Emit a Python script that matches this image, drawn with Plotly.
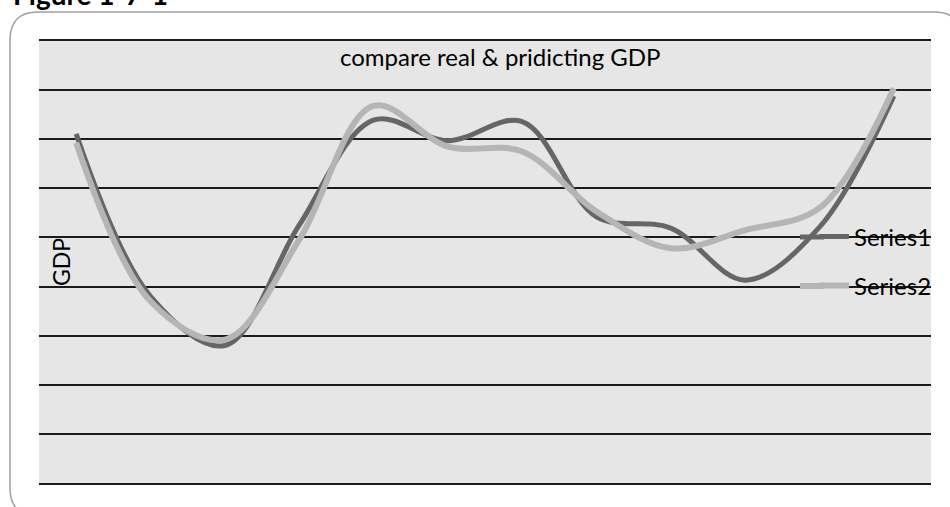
import plotly.graph_objects as go

# ---- data ----
categories = list(range(1, 13))
series1 = [7.11, 3.80, 2.80, 5.25, 7.39, 6.97, 7.36, 5.42, 5.19, 4.13, 5.21, 7.88]
series2 = [6.93, 3.70, 2.92, 4.95, 7.68, 6.85, 6.75, 5.53, 4.78, 5.15, 5.60, 8.04]
series_names = ["Series1", "Series2"]
series_colors = ["#666666", "#b5b5b5"]
series_widths = [5, 6]
chart_title = "compare real & pridicting GDP"
y_title = "GDP"
figure_label = "Figure 1-7-1"

W, H = 950, 507
L, R, T, B = 39, 19, 41, 24
PW, PH = W - L - R, H - T - B


def px(xp):
    return (xp - L) / PW


def py(yp):
    return (H - B - yp) / PH


FONT = "Lato, 'Open Sans', sans-serif"

fig = go.Figure()
fig.add_trace(go.Scatter(
    x=categories, y=series1, name=series_names[0], mode="lines",
    line=dict(color=series_colors[0], width=series_widths[0], shape="spline", smoothing=1.0),
    legend="legend",
))
fig.add_trace(go.Scatter(
    x=categories, y=series2, name=series_names[1], mode="lines",
    line=dict(color=series_colors[1], width=series_widths[1], shape="spline", smoothing=1.0),
    legend="legend2",
))

# rounded outer frame
x0, y0, x1, y1, r = 10, 12, 962, 516, 28
path = (f"M {px(x0 + r)},{py(y0)} L {px(x1 - r)},{py(y0)} "
        f"Q {px(x1)},{py(y0)} {px(x1)},{py(y0 + r)} "
        f"L {px(x1)},{py(y1 - r)} Q {px(x1)},{py(y1)} {px(x1 - r)},{py(y1)} "
        f"L {px(x0 + r)},{py(y1)} Q {px(x0)},{py(y1)} {px(x0)},{py(y1 - r)} "
        f"L {px(x0)},{py(y0 + r)} Q {px(x0)},{py(y0)} {px(x0 + r)},{py(y0)} Z")

shapes = [dict(type="path", path=path, xref="paper", yref="paper",
               line=dict(color="#a0a0a0", width=1.5), layer="above")]
# extend legend line samples to the longer Excel-style swatch
for i, yy in enumerate([237, 286]):
    shapes.append(dict(type="line", xref="paper", yref="paper",
                       x0=px(800), x1=px(824), y0=py(yy), y1=py(yy),
                       line=dict(color=series_colors[i], width=series_widths[i]),
                       layer="above"))

fig.update_layout(
    width=W, height=H,
    margin=dict(l=L, r=R, t=T, b=B),
    paper_bgcolor="white",
    plot_bgcolor="#e6e6e6",
    font=dict(family=FONT, color="black"),
    showlegend=True,
    legend=dict(x=px(814), y=py(237), xanchor="left", yanchor="middle",
                bgcolor="rgba(0,0,0,0)", borderwidth=0,
                font=dict(size=24, family=FONT, color="black")),
    legend2=dict(x=px(814), y=py(286), xanchor="left", yanchor="middle",
                 bgcolor="rgba(0,0,0,0)", borderwidth=0,
                 font=dict(size=24, family=FONT, color="black")),
    xaxis=dict(range=[0.5, 12.5], showgrid=False, showticklabels=False,
               ticks="", zeroline=False, showline=True, mirror=True,
               linecolor="#1a1a1a", linewidth=1.5, fixedrange=True),
    yaxis=dict(range=[0, 9], dtick=1, tick0=0, showgrid=True,
               gridcolor="#1a1a1a", gridwidth=1.5, showticklabels=False,
               ticks="", zeroline=False, showline=False, fixedrange=True),
    shapes=shapes,
    annotations=[
        dict(text=chart_title, x=px(500), y=py(57), xref="paper", yref="paper",
             xanchor="center", yanchor="middle", showarrow=False,
             font=dict(size=24, family=FONT, color="black")),
        dict(text=y_title, x=px(61), y=py(262), xref="paper", yref="paper",
             xanchor="center", yanchor="middle", showarrow=False, textangle=-90,
             font=dict(size=23, family=FONT, color="black")),
        dict(text=f"<b>{figure_label}</b>", x=px(11), y=py(13), xref="paper",
             yref="paper", xanchor="left", yanchor="bottom", showarrow=False,
             font=dict(size=28, family=FONT, color="black")),
    ],
)

fig.write_html("out.html", config={"displayModeBar": False},
               post_script="document.body.style.margin='0';document.body.style.overflow='hidden';")
